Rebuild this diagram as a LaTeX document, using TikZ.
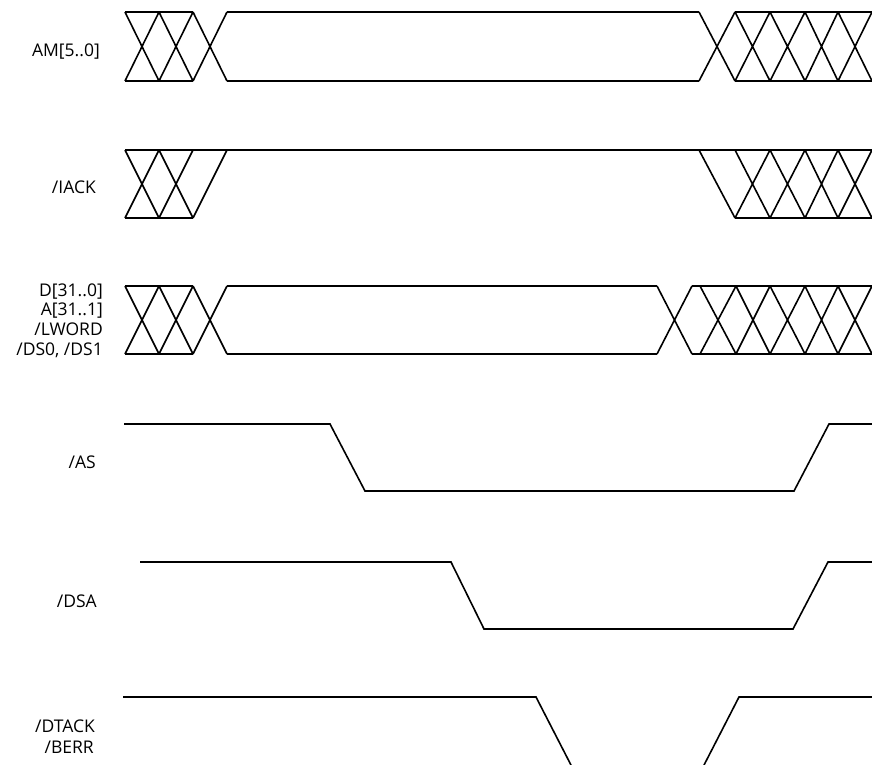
\documentclass[tikz,border=0pt]{standalone}
\usepackage{fontspec}
\setmainfont{Open Sans}
\begin{document}
\begin{tikzpicture}[x=1pt,y=-1pt,
  wave/.style={line width=1.6pt,line join=miter,black},
  sig/.style={anchor=base east,inner sep=0pt,font=\fontsize{17.5}{19}\selectfont}]
\useasboundingbox (0,0) rectangle (872,765);
\clip (0,0) rectangle (872,765);
% labels
\node[sig] (am)   at (100,57)  {AM[5..0]};
\node[sig] (iack) at (96,193)  {/IACK};
\node[sig] (d)    at (103,296) {D[31..0]};
\node[sig] (a)    at (103,315) {A[31..1]};
\node[sig] (lw)   at (103,335) {/LWORD};
\node[sig] (ds)   at (103,355) {/DS0, /DS1};
\node[sig] (as)   at (96,468)  {/AS};
\node[sig] (dsa)  at (97,607)  {/DSA};
\node[sig] (dt)   at (95,732)  {/DTACK};
\node[sig] (be)   at (94,753)  {/BERR};
% row 1 AM
\def\t{12}\def\b{81}
\draw[wave] (125,\t)--(193,\t) (125,\b)--(193,\b);
\foreach \xa/\xb in {125/159,159/193,193/227,699/735,735/770,770/805,805/838,838/872}
  {\draw[wave] (\xa,\t)--(\xb,\b) (\xa,\b)--(\xb,\t);}
\draw[wave] (227,\t)--(699,\t) (227,\b)--(699,\b);
\draw[wave] (735,\t)--(872,\t) (735,\b)--(872,\b);
% row 2 IACK
\def\t{150}\def\b{218}
\draw[wave] (125,\t)--(872,\t) (125,\b)--(193,\b) (735,\b)--(872,\b);
\foreach \xa/\xb in {125/159,159/193,735/770,770/805,805/838,838/872}
  {\draw[wave] (\xa,\t)--(\xb,\b) (\xa,\b)--(\xb,\t);}
\draw[wave] (193,\b)--(227,\t) (699,\t)--(735,\b);
% row 3 D/A
\def\t{286}\def\b{354}
\draw[wave] (125,\t)--(193,\t) (125,\b)--(193,\b);
\foreach \xa/\xb in {125/159,159/193,193/227,657/692,700/736,736/770,770/805,805/838,838/872}
  {\draw[wave] (\xa,\t)--(\xb,\b) (\xa,\b)--(\xb,\t);}
\draw[wave] (227,\t)--(657,\t) (227,\b)--(657,\b);
\draw[wave] (692,\t)--(872,\t) (692,\b)--(872,\b);
% row 4 AS
\draw[wave] (124,424)--(330,424)--(365,491)--(794,491)--(829,424)--(872,424);
% row 5 DSA
\draw[wave] (140,562)--(451,562)--(484,629)--(793,629)--(828,562)--(872,562);
% row 6 DTACK
\draw[wave] (123,697)--(536,697)--(572,767);
\draw[wave] (703,767)--(739,697)--(872,697);
\end{tikzpicture}
\end{document}
